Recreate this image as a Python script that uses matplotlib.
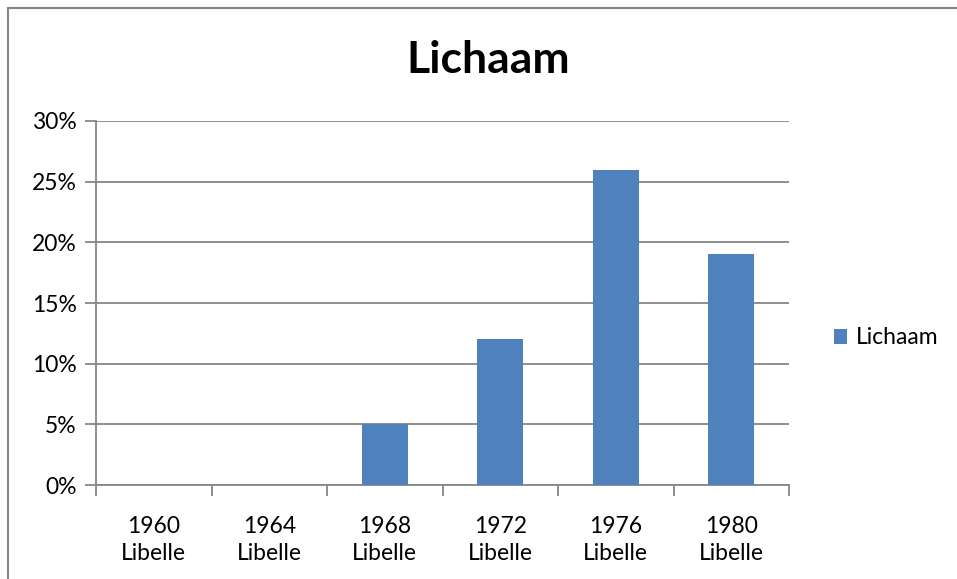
import matplotlib
matplotlib.use("Agg")
import matplotlib.pyplot as plt
from matplotlib.lines import Line2D
from matplotlib.ticker import FixedLocator, FuncFormatter

plt.rcParams['font.family'] = ['Lato', 'DejaVu Sans']

years = ["1960", "1964", "1968", "1972", "1976", "1980"]
labels = [y + "\nLibelle" for y in years]
values = [0, 0, 5, 12, 26, 19]
series_name = "Lichaam"

grey = "#868686"
blue = "#4F81BD"

fig = plt.figure(figsize=(9.57, 5.79), dpi=100)
W, H = 957, 579

# chart border (only top and left visible in the crop)
fig.add_artist(Line2D([8 / W, 8 / W], [0, 1 - 8 / H], transform=fig.transFigure, color=grey, lw=1.5))
fig.add_artist(Line2D([8 / W, 1], [1 - 8 / H, 1 - 8 / H], transform=fig.transFigure, color=grey, lw=1.5))

ax = fig.add_axes([96 / W, 1 - 485 / H, (789 - 96) / W, (485 - 121) / H])
x = list(range(len(values)))
bars = ax.bar(x, [v / 100 for v in values], width=0.4, color=blue, label=series_name, zorder=3)

ax.set_xlim(-0.5, len(values) - 0.5)
ax.set_ylim(0, 0.30)
ax.yaxis.set_major_locator(FixedLocator([0, 0.05, 0.10, 0.15, 0.20, 0.25, 0.30]))
ax.yaxis.set_major_formatter(FuncFormatter(lambda v, p: "%d%%" % round(v * 100)))
ax.grid(axis='y', color=grey, lw=1.3, zorder=0)

ax.set_xticks(x)
ax.set_xticklabels(labels, fontsize=16.5, linespacing=1.35)
ax.set_xticks([i - 0.5 for i in range(len(values) + 1)], minor=True)
ax.tick_params(axis='x', which='major', length=0, pad=22)
ax.tick_params(axis='x', which='minor', length=8, width=1.3, color=grey)
ax.tick_params(axis='y', length=8, width=1.3, color=grey, labelsize=16.5, pad=6)

for s in ['top', 'right']:
    ax.spines[s].set_visible(False)
for s in ['left', 'bottom']:
    ax.spines[s].set_color(grey)
    ax.spines[s].set_linewidth(1.3)

fig.text(488 / W, 1 - 60 / H, "Lichaam", ha='center', va='center', fontsize=32, fontweight='bold')

fig.legend(handles=[bars], labels=[series_name], loc='center left',
           bbox_to_anchor=(813 / W, 1 - 338 / H), frameon=False, fontsize=16.5,
           handlelength=0.6, handleheight=0.6, handletextpad=0.35)

fig.savefig("out.png", dpi=100)
